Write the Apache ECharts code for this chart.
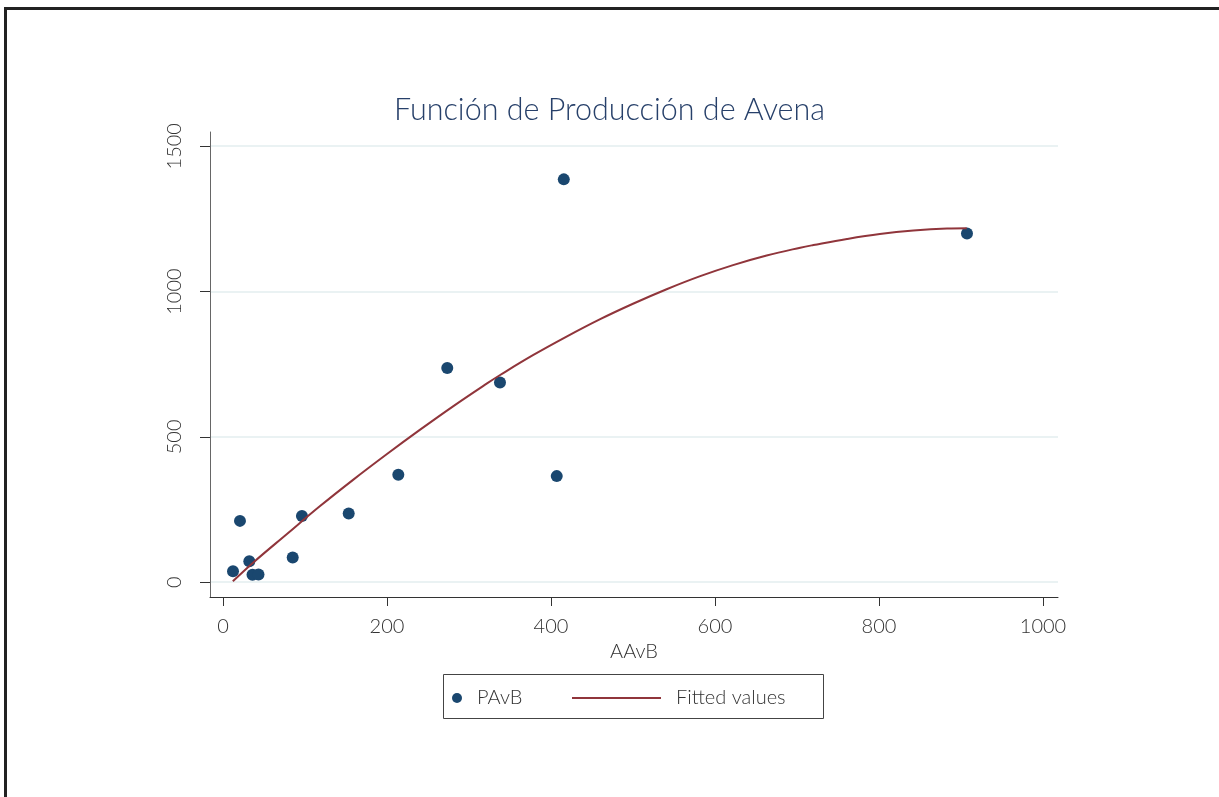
<!DOCTYPE html>
<html>
<head>
<meta charset="utf-8">
<script src="https://cdn.jsdelivr.net/npm/echarts@6/dist/echarts.min.js"></script>
<style>
  html, body { margin: 0; padding: 0; background: #fff; }
  #chart { width: 1219px; height: 797px; }
</style>
</head>
<body>
<div id="chart"></div>
<script>
// datos (AAvB vs PAvB)
const aavb = [12.2, 20.7, 32.1, 36, 43.3, 85, 96.3, 153.3, 213.8, 273.5, 337.8, 407, 415.6, 907.3]
const pavb = [38, 211, 72, 26, 26.5, 85, 228, 236, 370, 737, 687, 365, 1386, 1200]

// curva ajustada (Fitted values)
const fitX = [12, 37, 78, 118, 159, 200, 240, 281, 322, 338, 378, 419, 460, 500, 541, 582, 622, 663, 704, 720, 761, 801, 842, 883, 907]
const fitY = [3, 68, 166, 261, 353, 441, 524, 606, 684, 713, 781, 845, 905, 958, 1008, 1053, 1091, 1124, 1151, 1160, 1181, 1198, 1210, 1217, 1218]

const xTicks = [0, 200, 400, 600, 800, 1000]
const yTicks = [0, 500, 1000, 1500]

const font = 'Lato, "Open Sans", sans-serif'
const navy = '#1a476f'
const maroon = '#90353b'

const chart = echarts.init(document.getElementById('chart'))

const option = {
  backgroundColor: '#fff',
  animation: false,
  title: {
    text: 'Función de Producción de Avena',
    left: 'center',
    top: 90,
    textStyle: { fontFamily: font, fontWeight: 300, fontSize: 30.5, color: '#27406a' },
  },
  grid: { left: 210, right: 161, top: 132, bottom: 200 },
  xAxis: {
    type: 'value',
    min: -15.85,
    max: 1018.3,
    name: 'AAvB',
    nameLocation: 'middle',
    nameGap: 45,
    nameTextStyle: { fontFamily: font, fontWeight: 300, fontSize: 20, color: '#333' },
    axisLine: { show: true, onZero: false, lineStyle: { color: '#333', width: 1 } },
    axisTick: { show: true, length: 9, customValues: xTicks, lineStyle: { color: '#333' } },
    axisLabel: {
      customValues: xTicks,
      margin: 20,
      formatter: (v) => String(v),
      fontFamily: font, fontWeight: 300, fontSize: 20, color: '#333',
    },
    splitLine: { show: false },
  },
  yAxis: {
    type: 'value',
    min: -50.9,
    max: 1549,
    axisLine: { show: true, onZero: false, lineStyle: { color: '#666', width: 1 } },
    axisTick: { show: true, length: 10, customValues: yTicks, lineStyle: { color: '#333' } },
    axisLabel: {
      customValues: yTicks,
      rotate: 90,
      margin: 25,
      formatter: (v) => String(v),
      fontFamily: font, fontWeight: 300, fontSize: 20, color: '#333',
    },
    splitLine: { show: true, lineStyle: { color: '#eaf2f3', width: 2 } },
  },
  legend: [
    {
      data: [{ name: 'PAvB', icon: 'circle' }],
      left: 452,
      top: 688,
      padding: 0,
      itemWidth: 20,
      itemHeight: 10,
      textStyle: { fontFamily: font, fontWeight: 300, fontSize: 20, color: '#333', padding: [0, 0, 0, 5] },
    },
    {
      data: [{ name: 'Fitted values', icon: 'rect' }],
      left: 572,
      top: 688,
      padding: 0,
      itemWidth: 89,
      itemHeight: 2,
      textStyle: { fontFamily: font, fontWeight: 300, fontSize: 20, color: '#333', padding: [0, 0, 0, 10] },
    },
  ],
  graphic: [
    {
      type: 'rect',
      shape: { x: 5.5, y: 8.5, width: 1400, height: 1000 },
      style: { fill: 'none', stroke: '#222', lineWidth: 3 },
      silent: true,
    },
    {
      type: 'rect',
      shape: { x: 443.5, y: 674.5, width: 380, height: 44 },
      style: { fill: 'none', stroke: '#444', lineWidth: 1 },
      silent: true,
    },
  ],
  series: [
    {
      name: 'PAvB',
      type: 'scatter',
      symbol: 'circle',
      symbolSize: 12,
      itemStyle: { color: navy, opacity: 1 },
      data: aavb.map((x, i) => [x, pavb[i]]),
      z: 3,
    },
    {
      name: 'Fitted values',
      type: 'line',
      symbol: 'none',
      smooth: 0.4,
      lineStyle: { color: maroon, width: 2 },
      itemStyle: { color: maroon },
      data: fitX.map((x, i) => [x, fitY[i]]),
      z: 4,
    },
  ],
}

chart.setOption(option)
</script>
</body>
</html>
